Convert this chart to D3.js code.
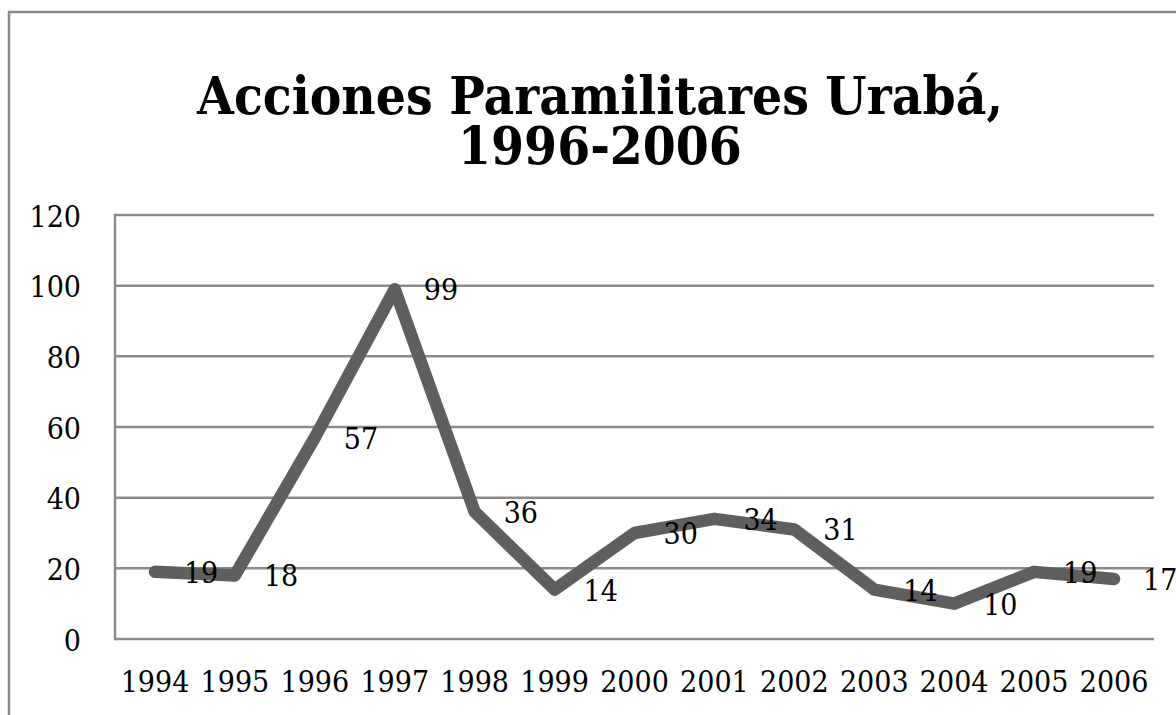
<!DOCTYPE html>
<html>
<head>
<meta charset="utf-8">
<script src="https://cdn.jsdelivr.net/npm/d3@7"></script>
<style>
  html, body { margin: 0; padding: 0; background: #fff; }
  svg { display: block; }
</style>
</head>
<body>
<svg id="chart" width="1176" height="715"></svg>
<script>
const years = ["1994","1995","1996","1997","1998","1999","2000","2001","2002","2003","2004","2005","2006"];
const values = [19, 18, 57, 99, 36, 14, 30, 34, 31, 14, 10, 19, 17];
const yTicks = [0, 20, 40, 60, 80, 100, 120];
const titleLines = ["Acciones Paramilitares Urabá,", "1996-2006"];

const svg = d3.select("#chart");
const margin = {left: 115, right: 1154, top: 215, bottom: 639};
const serif = "'DejaVu Serif Condensed', 'DejaVu Serif', serif";

// outer chart border (extends beyond viewport on right/bottom)
svg.append("rect")
  .attr("x", 9).attr("y", 12)
  .attr("width", 1400).attr("height", 1000)
  .attr("fill", "none")
  .attr("stroke", "#898989")
  .attr("stroke-width", 2.5);

const x = d3.scaleBand().domain(years).range([margin.left, margin.right]);
const y = d3.scaleLinear().domain([0, 120]).range([margin.bottom, margin.top]);

// gridlines
svg.append("g").selectAll("line").data(yTicks).join("line")
  .attr("x1", margin.left).attr("x2", margin.right)
  .attr("y1", d => y(d)).attr("y2", d => y(d))
  .attr("stroke", "#8b8b8b").attr("stroke-width", 2.5);

// vertical axis line
svg.append("line")
  .attr("x1", margin.left).attr("x2", margin.left)
  .attr("y1", y(120) - 1.25).attr("y2", y(0) + 1.25)
  .attr("stroke", "#8b8b8b").attr("stroke-width", 2.5);

const fontStyle = sel => sel
  .attr("font-family", serif).attr("font-stretch", "condensed")
  .attr("font-size", 30).attr("fill", "#000");

// y-axis tick labels
const yAxis = d3.axisLeft(y).tickValues(yTicks).tickSize(0).tickPadding(0);
const gy = svg.append("g").attr("transform", `translate(81,0)`).call(yAxis);
gy.select(".domain").remove();
gy.selectAll("text").call(fontStyle)
  .attr("dy", null).attr("y", 11).attr("x", 0).attr("text-anchor", "end");

// x-axis labels
const xAxis = d3.axisBottom(x).tickSize(0).tickPadding(0);
const gx = svg.append("g").attr("transform", `translate(0,692)`).call(xAxis);
gx.select(".domain").remove();
gx.selectAll("text").call(fontStyle)
  .attr("dy", null).attr("y", 0);

// line
const pts = years.map((yr, i) => ({yr, v: values[i]}));
const line = d3.line().x(d => x(d.yr) + x.bandwidth() / 2).y(d => y(d.v));
svg.append("path").datum(pts)
  .attr("d", line)
  .attr("fill", "none")
  .attr("stroke", "#5f5f5f")
  .attr("stroke-width", 12.5)
  .attr("stroke-linecap", "round")
  .attr("stroke-linejoin", "round");

// data labels (right of points)
svg.append("g").selectAll("text").data(pts).join("text")
  .attr("x", d => x(d.yr) + x.bandwidth() / 2 + 29)
  .attr("y", d => y(d.v) + 11)
  .call(fontStyle)
  .text(d => d.v);

// title
const title = svg.append("g");
const t1 = title.append("text")
  .attr("x", 600).attr("y", 114).attr("text-anchor", "middle")
  .attr("font-family", serif).attr("font-stretch", "condensed")
  .attr("font-weight", "bold").attr("font-size", 45)
  .attr("fill", "#000").text(titleLines[0]);
const w = t1.node().getComputedTextLength();
const fs = 45 * 806 / w;
t1.attr("font-size", fs);
title.append("text")
  .attr("x", 600).attr("y", 164).attr("text-anchor", "middle")
  .attr("font-family", serif).attr("font-stretch", "condensed")
  .attr("font-weight", "bold").attr("font-size", fs)
  .attr("fill", "#000").text(titleLines[1]);
</script>
</body>
</html>
